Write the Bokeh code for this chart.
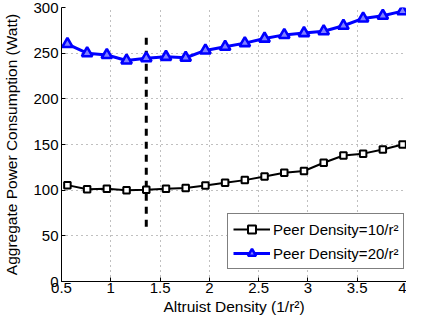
from bokeh.plotting import figure
from bokeh.models import FixedTicker, Range1d, Legend, LegendItem, ColumnDataSource
from bokeh.embed import file_html
from bokeh.resources import INLINE

# ---- data ----
altruist_density = [0.56, 0.76, 0.96, 1.16, 1.36, 1.56, 1.76, 1.96, 2.16, 2.36,
                    2.56, 2.76, 2.96, 3.16, 3.36, 3.56, 3.76, 3.96]
peer10_power = [105.5, 101, 101.5, 100, 100.5, 101.5, 102.5, 105, 108, 111,
                115, 119, 121, 130, 138, 140, 144.5, 150]
peer20_power = [260, 250, 248, 242, 244.5, 246, 245, 253, 257, 261,
                266, 270, 272, 274, 280, 288, 291, 296]
optimum_x = [1.36]
optimum_y0 = [60]
optimum_y1 = [270]
x_ticks = [0.5, 1, 1.5, 2, 2.5, 3, 3.5, 4]
x_tick_labels = ["0.5", "1", "1.5", "2", "2.5", "3", "3.5", "4"]
y_ticks = [0, 50, 100, 150, 200, 250, 300]
label_10 = "Peer Density=10/r²"
label_20 = "Peer Density=20/r²"

FONT = "Liberation Sans"

p = figure(width=406, height=319, output_backend="svg", toolbar_location=None,
           x_range=Range1d(0.5, 4.0), y_range=Range1d(0, 300),
           min_border_left=56, min_border_right=0, min_border_top=7,
           min_border_bottom=38)
p.background_fill_color = "white"
p.border_fill_color = "white"
p.outline_line_color = None

# grid
for g in (p.xgrid, p.ygrid):
    g.grid_line_color = "#808080"
    g.grid_line_dash = "1 4"
    g.grid_line_width = 1
p.xgrid.ticker = FixedTicker(ticks=x_ticks)
p.ygrid.ticker = FixedTicker(ticks=y_ticks)

# axes
p.xaxis.ticker = FixedTicker(ticks=x_ticks)
p.xaxis.major_label_overrides = {t: l for t, l in zip(x_ticks, x_tick_labels)}
p.yaxis.ticker = FixedTicker(ticks=y_ticks)
for ax in (p.xaxis[0], p.yaxis[0]):
    ax.axis_line_color = "black"
    ax.axis_line_width = 1
    ax.major_tick_in = 4
    ax.major_tick_out = 0
    ax.minor_tick_line_color = None
    ax.major_tick_line_color = "black"
    ax.major_label_text_font = FONT
    ax.major_label_text_font_size = "15px"
    ax.major_label_text_color = "black"
    ax.axis_label_text_font = FONT
    ax.axis_label_text_font_size = "15.5px"
    ax.axis_label_text_font_style = "normal"
    ax.axis_label_text_color = "black"
p.xaxis.major_label_standoff = 1
p.xaxis.axis_label_standoff = 2
p.yaxis.major_label_standoff = 3
p.yaxis.axis_label_standoff = 10
p.xaxis.axis_label = "Altruist Density (1/r²)"
p.yaxis.axis_label = "Aggregate Power Consumption (Watt)"

# optimum dashed line
p.segment(x0=optimum_x, y0=optimum_y0, x1=optimum_x, y1=optimum_y1,
          line_color="black", line_width=3, line_dash="7 6")

src10 = ColumnDataSource(dict(x=altruist_density, y=peer10_power))
src20 = ColumnDataSource(dict(x=altruist_density, y=peer20_power))

l10 = p.line("x", "y", source=src10, line_color="black", line_width=2)
m10 = p.scatter("x", "y", source=src10, marker="square", size=6.5,
                line_color="black", line_width=2, fill_color="white")
l20 = p.line("x", "y", source=src20, line_color="#0000ff", line_width=3)
m20 = p.scatter("x", "y", source=src20, marker="triangle", size=10.5,
                line_color="#0000ff", line_width=2.6, fill_color="#8080ff")

legend = Legend(items=[LegendItem(label=label_10, renderers=[l10, m10]),
                       LegendItem(label=label_20, renderers=[l20, m20])],
                location=(166, 12))
legend.label_text_font = FONT
legend.label_text_font_size = "15px"
legend.label_text_color = "black"
legend.glyph_width = 37
legend.glyph_height = 20
legend.label_height = 20
legend.label_standoff = 3
legend.spacing = 4
legend.padding = 5
legend.margin = 0
legend.border_line_color = "black"
legend.border_line_width = 1.5
legend.background_fill_color = "white"
legend.background_fill_alpha = 1
p.add_layout(legend)

open("out.html", "w").write(file_html(p, INLINE))
